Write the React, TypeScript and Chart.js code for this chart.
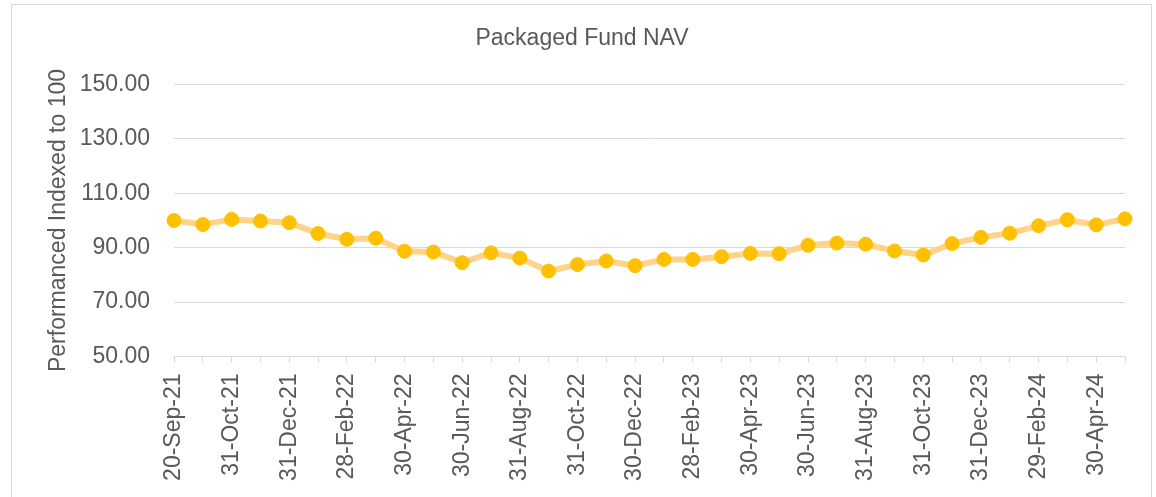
import React, { useEffect, useRef } from "react";
import { Chart, registerables } from "chart.js";

Chart.register(...registerables);

const categories: string[] = [
  "20-Sep-21", "30-Sep-21", "31-Oct-21", "30-Nov-21", "31-Dec-21", "31-Jan-22",
  "28-Feb-22", "31-Mar-22", "30-Apr-22", "31-May-22", "30-Jun-22", "31-Jul-22",
  "31-Aug-22", "30-Sep-22", "31-Oct-22", "30-Nov-22", "30-Dec-22", "31-Jan-23",
  "28-Feb-23", "31-Mar-23", "30-Apr-23", "31-May-23", "30-Jun-23", "31-Jul-23",
  "31-Aug-23", "30-Sep-23", "31-Oct-23", "30-Nov-23", "31-Dec-23", "31-Jan-24",
  "29-Feb-24", "31-Mar-24", "30-Apr-24", "31-May-24",
];

const navValues: number[] = [
  100.0, 98.5, 100.4, 99.8, 99.2, 95.2, 93.1, 93.5, 88.7, 88.4, 84.5, 88.1,
  86.2, 81.4, 83.8, 85.1, 83.4, 85.7, 85.7, 86.7, 87.9, 87.8, 90.9, 91.7,
  91.25, 88.8, 87.3, 91.5, 93.8, 95.3, 98.1, 100.3, 98.4, 100.6,
];

const chartTitle = "Packaged Fund NAV";
const yAxisTitle = "Performanced Indexed to 100";
const yMin = 50;
const yMax = 150;
const yStep = 20;

const FONT = "'Liberation Sans', Arial, sans-serif";
const TEXT = "#595959";
const GRID = "#d9d9d9";

export default function App() {
  const ref = useRef<HTMLCanvasElement | null>(null);

  useEffect(() => {
    if (!ref.current) return;
    const titlePlugin = {
      id: "customTitle",
      afterDraw(chart: any) {
        const ctx = chart.ctx;
        ctx.save();
        ctx.font = `23px ${FONT}`;
        ctx.fillStyle = TEXT;
        ctx.textAlign = "center";
        ctx.textBaseline = "middle";
        ctx.fillText(chartTitle, 582, 39);
        ctx.restore();
      },
    };
    const chart = new Chart(ref.current, {
      type: "line",
      data: {
        labels: categories,
        datasets: [
          {
            label: chartTitle,
            data: navValues,
            borderColor: "#FFD38A",
            borderWidth: 6,
            pointBackgroundColor: "#FFC000",
            pointBorderColor: "#FFC000",
            pointBorderWidth: 1,
            pointRadius: 7,
            tension: 0,
            clip: false as any,
          },
        ],
      },
      options: {
        responsive: false,
        animation: false,
        layout: { padding: { top: 84.5, right: 31, bottom: 0, left: 0 } },
        plugins: {
          legend: { display: false },
          title: { display: false },
          tooltip: { enabled: false },
        },
        scales: {
          x: {
            offset: false,
            afterFit(scale: any) {
              scale.height = 140.5;
              scale.paddingLeft = 0;
              scale.paddingRight = 0;
            },
            grid: {
              display: true,
              drawOnChartArea: false,
              drawTicks: true,
              tickLength: 6,
              color: GRID,
              lineWidth: 1,
            },
            border: { display: true, color: GRID, width: 1 },
            ticks: {
              autoSkip: false,
              minRotation: 90,
              maxRotation: 90,
              padding: 11,
              color: TEXT,
              font: { family: FONT, size: 23 },
              callback: (_v: any, i: number) => (i % 2 === 0 ? categories[i] : ""),
            },
          },
          y: {
            min: yMin,
            max: yMax,
            afterFit(scale: any) {
              scale.width = 174;
              scale.paddingTop = 0;
              scale.paddingBottom = 0;
            },
            grid: { color: GRID, lineWidth: 1, drawTicks: false },
            border: { display: false },
            ticks: {
              stepSize: yStep,
              padding: 24,
              color: TEXT,
              font: { family: FONT, size: 23 },
              callback: (v: any) => Number(v).toFixed(2),
            },
            title: {
              display: true,
              text: yAxisTitle,
              color: TEXT,
              font: { family: FONT, size: 23 },
              padding: { top: 45, bottom: 0 },
            },
          },
        },
      },
      plugins: [titlePlugin],
    });
    return () => chart.destroy();
  }, []);

  return (
    <div style={{ position: "fixed", left: 0, top: 0, width: 1156, height: 497, background: "#fff", overflow: "hidden" }}>
      <div
        style={{
          position: "absolute",
          left: 11,
          top: 4,
          width: 1141,
          height: 560,
          border: `1px solid ${GRID}`,
          boxSizing: "border-box",
        }}
      />
      <canvas ref={ref} width={1156} height={497} style={{ position: "absolute", left: 0, top: 0 }} />
    </div>
  );
}
